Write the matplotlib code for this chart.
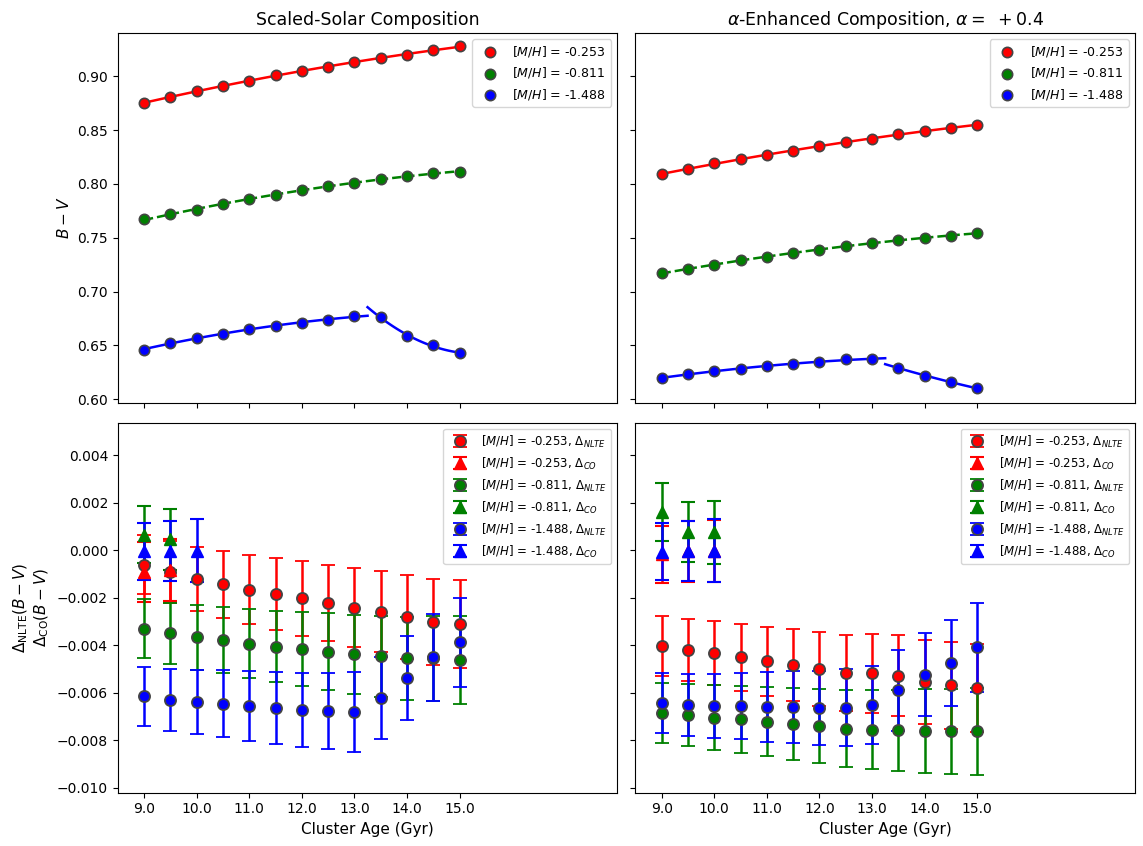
# B-V colours of the cluster models vs age, scaled-solar and alpha-enhanced,
# with the NLTE and CO corrections in the bottom row

import numpy as np
import matplotlib
matplotlib.use("Agg")
import matplotlib.pyplot as plt

AGES = [9.0, 9.5, 10.0, 10.5, 11.0, 11.5, 12.0, 12.5, 13.0, 13.5, 14.0, 14.5, 15.0]
CO_AGES = [9.0, 9.5, 10.0]
METALS = ["-0.253", "-0.811", "-1.488"]
COLORS = ["red", "green", "blue"]

# top row, B-V
BV_SOLAR = {
    "-0.253": [0.875, 0.881, 0.886, 0.891, 0.896, 0.901, 0.905, 0.909, 0.913, 0.917, 0.920, 0.924, 0.928],
    "-0.811": [0.767, 0.772, 0.776, 0.781, 0.786, 0.790, 0.794, 0.798, 0.801, 0.805, 0.807, 0.810, 0.811],
    "-1.488": [0.646, 0.652, 0.657, 0.661, 0.665, 0.668, 0.671, 0.674, 0.677, 0.676, 0.659, 0.650, 0.643],
}
BV_ALPHA = {
    "-0.253": [0.809, 0.814, 0.819, 0.823, 0.827, 0.831, 0.835, 0.839, 0.842, 0.846, 0.849, 0.852, 0.855],
    "-0.811": [0.717, 0.721, 0.725, 0.729, 0.732, 0.736, 0.739, 0.742, 0.745, 0.748, 0.750, 0.752, 0.754],
    "-1.488": [0.620, 0.623, 0.626, 0.628, 0.631, 0.633, 0.635, 0.637, 0.637, 0.629, 0.622, 0.616, 0.610],
}

# bottom row, NLTE corrections and their errors
NLTE_SOLAR = {
    "-0.253": [-0.00060, -0.00090, -0.00120, -0.00143, -0.00166, -0.00184, -0.00203, -0.00222, -0.00241, -0.00258, -0.00280, -0.00303, -0.00311],
    "-0.811": [-0.00331, -0.00350, -0.00366, -0.00378, -0.00394, -0.00405, -0.00415, -0.00426, -0.00437, -0.00447, -0.00455, -0.00455, -0.00462],
    "-1.488": [-0.00615, -0.00630, -0.00639, -0.00646, -0.00654, -0.00663, -0.00671, -0.00677, -0.00680, -0.00622, -0.00537, -0.00451, -0.00388],
}
NLTE_SOLAR_ERR = {
    "-0.253": [0.00125, 0.00130, 0.00135, 0.00140, 0.00145, 0.00150, 0.00156, 0.00161, 0.00167, 0.00172, 0.00176, 0.00180, 0.00186],
    "-0.811": [0.00124, 0.00130, 0.00137, 0.00140, 0.00145, 0.00150, 0.00155, 0.00160, 0.00166, 0.00170, 0.00175, 0.00180, 0.00186],
    "-1.488": [0.00125, 0.00131, 0.00136, 0.00141, 0.00147, 0.00151, 0.00155, 0.00160, 0.00167, 0.00172, 0.00176, 0.00184, 0.00187],
}
NLTE_ALPHA = {
    "-0.253": [-0.00404, -0.00420, -0.00432, -0.00451, -0.00468, -0.00483, -0.00500, -0.00516, -0.00517, -0.00527, -0.00555, -0.00569, -0.00580],
    "-0.811": [-0.00684, -0.00692, -0.00705, -0.00712, -0.00722, -0.00731, -0.00740, -0.00750, -0.00755, -0.00758, -0.00760, -0.00762, -0.00762],
    "-1.488": [-0.00642, -0.00652, -0.00655, -0.00656, -0.00660, -0.00661, -0.00662, -0.00663, -0.00652, -0.00589, -0.00523, -0.00474, -0.00409],
}
NLTE_ALPHA_ERR = {
    "-0.253": [0.00126, 0.00130, 0.00135, 0.00140, 0.00145, 0.00150, 0.00157, 0.00161, 0.00166, 0.00170, 0.00176, 0.00182, 0.00186],
    "-0.811": [0.00125, 0.00131, 0.00136, 0.00140, 0.00145, 0.00151, 0.00155, 0.00161, 0.00167, 0.00170, 0.00176, 0.00180, 0.00184],
    "-1.488": [0.00125, 0.00130, 0.00135, 0.00140, 0.00147, 0.00151, 0.00156, 0.00162, 0.00165, 0.00171, 0.00176, 0.00181, 0.00187],
}

# bottom row, CO corrections (only the three youngest ages)
CO_SOLAR = {
    "-0.253": [-0.00091, -0.00084, np.nan],
    "-0.811": [0.00066, 0.00046, np.nan],
    "-1.488": [-0.00005, -0.00003, -0.00002],
}
CO_SOLAR_ERR = {
    "-0.253": [0.00126, 0.00130, np.nan],
    "-0.811": [0.00120, 0.00129, np.nan],
    "-1.488": [0.00121, 0.00128, 0.00132],
}
CO_ALPHA = {
    "-0.253": [-0.00016, -0.00005, -0.00003],
    "-0.811": [0.00160, 0.00078, 0.00075],
    "-1.488": [-0.00007, -0.00004, -0.00002],
}
CO_ALPHA_ERR = {
    "-0.253": [0.00120, 0.00127, 0.00132],
    "-0.811": [0.00121, 0.00126, 0.00132],
    "-1.488": [0.00120, 0.00127, 0.00132],
}

TITLES = ["Scaled-Solar Composition", r"$\alpha$-Enhanced Composition, $\alpha =\ +0.4$"]
EDGE = "#444444"


def plot_fit(ax, ages, values, color, style, x_from, x_to):
    coef = np.polyfit(ages, values, 2)
    xs = np.linspace(x_from, x_to, 100)
    ax.plot(xs, np.polyval(coef, xs), style, color=color, lw=1.8, zorder=1)


def plot_bv(ax, bv):
    ages = np.array(AGES)
    for met, color in zip(METALS, COLORS):
        vals = np.array(bv[met])
        if met == "-1.488":
            # turnover: two separate fits, split at 13.25 Gyr
            left = ages <= 13.0
            plot_fit(ax, ages[left], vals[left], color, "-", 9.0, 13.25)
            plot_fit(ax, ages[~left], vals[~left], color, "-", 13.25, 15.0)
        else:
            style = "--" if met == "-0.811" else "-"
            plot_fit(ax, ages, vals, color, style, 9.0, 15.0)
        ax.scatter(ages, vals, s=55, color=color, edgecolor=EDGE, linewidth=1.2,
                   zorder=3, label=f"$[M/H]$ = {met}")
    ax.legend(loc="upper right", fontsize=9)


def plot_delta(ax, nlte, nlte_err, co, co_err):
    for met, color in zip(METALS, COLORS):
        ax.errorbar(AGES, nlte[met], yerr=nlte_err[met], fmt="o", color=color, ms=8,
                    mec=EDGE, mew=1.3, capsize=5, elinewidth=1.8, capthick=1.5,
                    label=f"$[M/H]$ = {met}, " + r"$\Delta_{NLTE}$")
        ax.errorbar(CO_AGES, co[met], yerr=co_err[met], fmt="^", color=color, ms=8.5,
                    capsize=5, elinewidth=1.8, capthick=1.5,
                    label=f"$[M/H]$ = {met}, " + r"$\Delta_{CO}$")
    ax.legend(loc="upper right", fontsize=8.5)


fig, axes = plt.subplots(2, 2, figsize=(11.43, 8.46), dpi=100, sharex=True, sharey="row")
fig.subplots_adjust(left=0.103, right=0.993, top=0.961, bottom=0.063, wspace=0.036, hspace=0.054)

plot_bv(axes[0, 0], BV_SOLAR)
plot_bv(axes[0, 1], BV_ALPHA)
plot_delta(axes[1, 0], NLTE_SOLAR, NLTE_SOLAR_ERR, CO_SOLAR, CO_SOLAR_ERR)
plot_delta(axes[1, 1], NLTE_ALPHA, NLTE_ALPHA_ERR, CO_ALPHA, CO_ALPHA_ERR)

for i in range(2):
    axes[0, i].set_title(TITLES[i], fontsize=12.5)
    axes[1, i].set_xlabel("Cluster Age (Gyr)", fontsize=11)
    axes[1, i].set_xticks(np.arange(9, 16))
    axes[1, i].set_xticklabels([f"{a:.1f}" for a in range(9, 16)])

axes[0, 0].set_xlim(8.5, 18.0)
axes[0, 0].set_ylim(0.5966, 0.9402)
axes[1, 0].set_ylim(-0.0102, 0.00536)
axes[0, 0].set_ylabel("$B-V$", fontsize=11)
axes[1, 0].set_ylabel(r"$\Delta_{\rm NLTE}(B-V)$" + "\n" + r"$\Delta_{\rm CO}(B-V)$", fontsize=11)

fig.savefig("out.png", dpi=100)
